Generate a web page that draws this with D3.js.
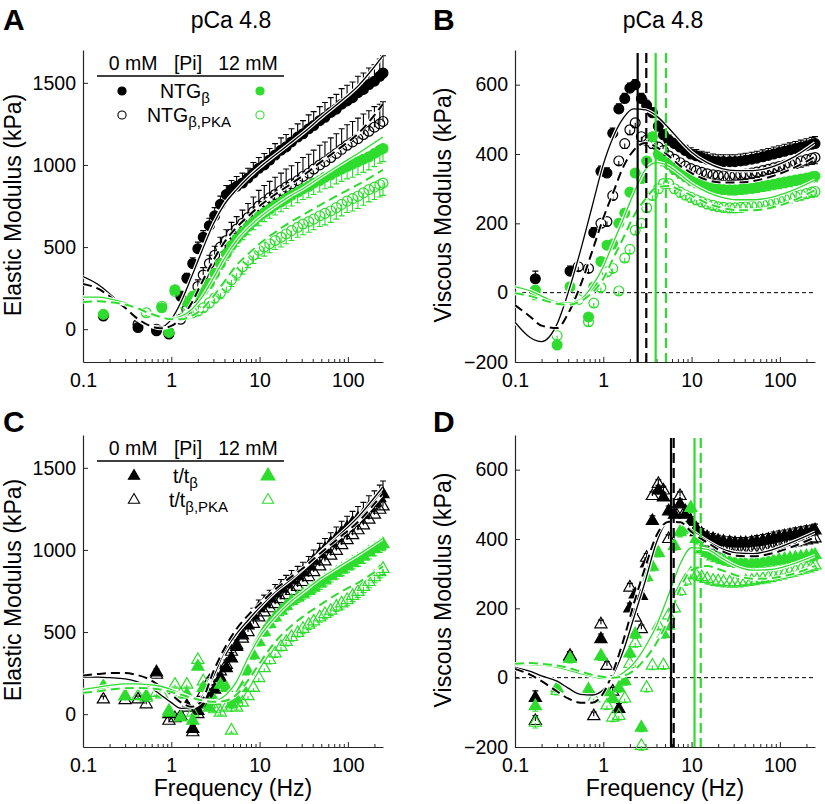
<!DOCTYPE html>
<html>
<head>
<meta charset="utf-8">
<script src="https://cdn.jsdelivr.net/npm/d3@7"></script>
<style>
  body { margin: 0; background: #fff; }
  svg { font-family: "Liberation Sans", Arial, sans-serif; }
</style>
</head>
<body>
<svg id="fig" width="825" height="804"></svg>
<script>
// frequencies (Hz) of the measured points and of the fitted curves
const freqs = [0.17, 0.3, 0.42, 0.52, 0.68, 0.78, 0.94, 1.1, 1.28, 1.5, 1.75, 2.0, 2.3, 2.7, 3.1, 3.6, 4.2, 4.8, 5.5, 6.4,
  7.4, 8.5, 9.8, 11.3, 13, 15, 17.5, 20, 23, 27, 31, 36, 41, 48, 55, 64, 74, 85, 98, 113, 130, 150, 173, 200, 230, 250];
const fitFreqs = [0.1, 0.15, 0.2, 0.3, 0.4, 0.55, 0.75, 1, 1.3, 1.7, 2.2, 3, 4, 5.5, 7.5, 10, 15, 22, 32, 50, 80, 130, 250];

// A: elastic modulus, NTG (kPa)
const aNtg0 = [80, null, 10, null, -10, null, -30, null, 200, 310, 400, 490, 560, 630, 690, 760, 820, 850, 870, 890, 920, 950, 980, 1000, 1030, 1060, 1090, 1110, 1140, 1170, 1190, 1220, 1240, 1270, 1290, 1320, 1340, 1370, 1390, 1410, 1440, 1460, 1490, 1510, 1540, 1560];
const aNtg0Err = [15, null, 15, null, 15, null, 20, null, 30, 30, 35, 40, 40, 45, 50, 50, 55, 55, 60, 60, 60, 65, 65, 70, 70, 70, 75, 75, 80, 80, 80, 85, 85, 85, 90, 90, 90, 95, 95, 95, 100, 100, 100, 100, 105, 105];
const aPka0 = [null, null, 30, null, 0, null, -20, null, 60, 120, 190, 260, 330, 400, 450, 500, 540, 580, 610, 645, 680, 715, 750, 775, 800, 820, 845, 865, 885, 905, 930, 950, 975, 1000, 1020, 1045, 1070, 1095, 1120, 1140, 1160, 1185, 1205, 1230, 1250, 1265];
const aPka0Err = [null, null, 15, null, 15, null, 15, null, 25, 30, 35, 40, 45, 50, 55, 60, 65, 70, 75, 80, 85, 90, 95, 100, 100, 105, 105, 110, 110, 110, 115, 115, 115, 120, 120, 120, 120, 125, 125, 125, 125, 125, 125, 125, 120, 120];
const aNtg12 = [90, null, null, null, null, 130, -20, 240, null, 165, 200, 215, 240, 280, 340, 400, 460, 510, 550, 590, 625, 655, 685, 710, 730, 755, 775, 795, 815, 835, 855, 870, 890, 905, 925, 940, 960, 975, 990, 1005, 1020, 1035, 1050, 1070, 1090, 1100];
const aNtg12Err = [20, null, null, null, null, 20, 20, 20, null, 20, 25, 25, 30, 30, 35, 35, 40, 40, 45, 45, 50, 50, 55, 55, 55, 60, 60, 60, 65, 65, 65, 70, 70, 70, 70, 75, 75, 75, 75, 80, 80, 80, 80, 80, 80, 80];
const aPka12 = [null, null, null, 100, null, 140, null, 230, 100, 90, 100, 110, 130, 160, 190, 220, 260, 300, 340, 380, 420, 450, 480, 500, 520, 540, 560, 580, 600, 620, 640, 655, 670, 690, 705, 720, 740, 760, 780, 795, 810, 830, 850, 865, 880, 890];
const aPka12Err = [null, null, null, 20, null, 20, null, 20, 20, 20, 20, 25, 25, 30, 30, 35, 35, 40, 40, 45, 45, 50, 50, 55, 55, 55, 60, 60, 60, 60, 65, 65, 65, 65, 70, 70, 70, 70, 70, 75, 75, 75, 75, 75, 75, 75];
const aFitNtg0 = [320, 270, 215, 125, 65, 22, 12, 60, 170, 320, 470, 640, 760, 850, 925, 985, 1060, 1130, 1200, 1290, 1380, 1480, 1665];
const aFitPka0 = [275, 245, 200, 130, 70, 25, 5, 20, 70, 160, 280, 420, 530, 620, 690, 750, 820, 880, 940, 1020, 1100, 1190, 1370];
const aFitNtg12 = [195, 195, 185, 160, 130, 95, 70, 65, 80, 120, 190, 310, 430, 540, 620, 680, 750, 810, 860, 930, 1000, 1070, 1170];
const aFitPka12 = [165, 170, 165, 150, 130, 100, 75, 60, 60, 80, 120, 200, 290, 390, 460, 520, 590, 650, 700, 760, 820, 880, 970];

// B: viscous modulus, NTG (kPa)
const bNtg0 = [40, null, 62, null, null, 173, 350, 345, 460, 530, 560, 590, 600, 560, 540, 519, 480, 455, 440, 430, 420, 410, 400, 395, 390, 385, 380, 378, 378, 378, 378, 380, 382, 385, 388, 392, 396, 400, 404, 408, 412, 416, 420, 424, 428, 430];
const bNtg0Err = [22, null, 15, null, null, 15, 15, 15, 15, 15, 15, 15, 15, 15, 15, 15, 15, 15, 15, 15, 15, 15, 18, 18, 18, 20, 20, 20, 20, 20, 20, 20, 20, 20, 20, 20, 20, 20, 20, 20, 20, 20, 20, 20, 20, 20];
const bPka0 = [null, null, null, 75, 70, null, 200, 205, 280, 380, 430, 470, 490, 450, 440, 430, 420, 410, 395, 385, 375, 365, 358, 352, 347, 343, 340, 338, 337, 337, 338, 340, 342, 345, 348, 352, 356, 360, 364, 368, 372, 376, 380, 384, 388, 390];
const bPka0Err = [null, null, null, 12, 12, null, 12, 12, 12, 12, 14, 14, 14, 14, 14, 14, 14, 14, 15, 15, 15, 15, 15, 15, 15, 15, 15, 16, 16, 16, 16, 16, 16, 16, 16, 16, 16, 16, 18, 18, 18, 18, 18, 18, 18, 18];
const bNtg12 = [8, -151, 17, null, -70, 17, 90, 137, 140, 200, 230, 290, 345, 330, 380, 450, 400, 380, 370, 355, 345, 335, 325, 318, 312, 307, 303, 300, 298, 297, 297, 298, 300, 302, 304, 307, 310, 313, 316, 319, 322, 325, 328, 331, 334, 336];
const bNtg12Err = [15, 12, 12, null, 12, 12, 12, 12, 12, 12, 12, 12, 12, 14, 14, 14, 14, 14, 14, 14, 15, 15, 15, 15, 15, 15, 15, 15, 15, 15, 15, 15, 15, 15, 15, 15, 16, 16, 16, 16, 16, 16, 16, 16, 16, 16];
const bPka12 = [-5, -124, null, -20, -84, -30, 15, 60, 70, 5, 100, 125, 180, 200, 245, 280, 300, 315, 315, 300, 290, 282, 275, 268, 262, 256, 252, 248, 246, 245, 245, 246, 248, 250, 252, 255, 258, 262, 266, 270, 274, 278, 282, 286, 290, 292];
const bPka12Err = [15, 12, null, 12, 12, 12, 12, 12, 12, 12, 12, 12, 12, 12, 12, 12, 14, 14, 14, 14, 14, 14, 14, 14, 14, 14, 14, 14, 14, 14, 14, 14, 14, 14, 14, 14, 15, 15, 15, 15, 15, 15, 15, 15, 15, 15];
const bFitNtg0 = [-85, -130, -141, -90, 0, 120, 250, 370, 450, 505, 530, 527, 510, 475, 437, 405, 375, 358, 352, 352, 362, 385, 432];
const bFitPka0 = [-36, -70, -95, -102, -60, 20, 120, 215, 290, 365, 410, 432, 420, 395, 365, 345, 325, 318, 318, 322, 335, 355, 392];
const bFitNtg12 = [17, 5, -10, -28, -30, -20, 20, 75, 145, 215, 285, 355, 375, 365, 340, 315, 290, 275, 268, 268, 275, 292, 325];
const bFitPka12 = [-2, -10, -20, -32, -35, -25, 0, 40, 100, 160, 220, 270, 303, 308, 295, 280, 258, 245, 238, 238, 245, 262, 296];
const bFmin = [2.45, 3.07, 3.92, 5.13];

// C: elastic modulus, t/t (kPa)
const cTt0 = [null, null, null, null, 255, null, 0, null, null, 50, -90, 20, 60, 120, 150, 220, 280, 340, 410, 480, 540, 600, 645, 675, 705, 735, 765, 790, 815, 840, 865, 900, 935, 975, 1005, 1040, 1070, 1105, 1135, 1165, 1190, 1215, 1255, 1285, 1315, 1340];
const cTt0Err = [null, null, null, null, 20, null, 20, null, null, 20, 20, 20, 25, 25, 30, 30, 35, 35, 40, 40, 45, 45, 50, 50, 50, 55, 55, 55, 60, 60, 60, 60, 65, 65, 65, 65, 70, 70, 70, 70, 75, 75, 75, 75, 80, 80];
const cPka0 = [90, 85, 90, 60, 240, null, -40, -25, -10, 40, -110, 0, 130, 200, 230, 260, 300, 380, 420, 460, 500, 550, 590, 620, 645, 670, 700, 725, 750, 775, 805, 835, 865, 900, 930, 965, 995, 1030, 1060, 1090, 1120, 1150, 1185, 1215, 1245, 1265];
const cPka0Err = [20, 20, 20, 20, 20, null, 20, 20, 20, 20, 20, 20, 25, 25, 25, 30, 30, 30, 35, 35, 35, 40, 40, 40, 45, 45, 45, 50, 50, 50, 55, 55, 55, 60, 60, 60, 60, 65, 65, 65, 65, 70, 70, 70, 70, 70];
const cTt12 = [170, 110, null, 110, null, null, 10, null, -20, 120, -40, 290, 160, 40, 80, 180, 160, 60, 90, 160, 260, 360, 440, 500, 550, 590, 630, 660, 690, 710, 730, 750, 770, 795, 815, 840, 860, 880, 900, 920, 940, 960, 985, 1005, 1025, 1035];
const cTt12Err = [15, 15, null, 15, null, null, 15, null, 15, 15, 15, 15, 15, 15, 15, 20, 20, 20, 20, 20, 20, 25, 25, 25, 25, 25, 30, 30, 30, 30, 30, 30, 30, 35, 35, 35, 35, 35, 35, 35, 40, 40, 40, 40, 40, 40];
const cPka12 = [null, 110, 110, 100, 130, 120, 20, 180, 120, 180, 10, 330, 200, 60, 30, 10, 40, -100, 40, 70, 110, 160, 220, 280, 330, 370, 410, 440, 470, 495, 520, 545, 565, 590, 610, 630, 655, 675, 695, 720, 745, 775, 805, 835, 865, 885];
const cPka12Err = [null, 15, 15, 15, 15, 15, 15, 15, 15, 15, 15, 15, 15, 15, 15, 15, 15, 15, 15, 20, 20, 20, 20, 20, 25, 25, 25, 25, 25, 25, 30, 30, 30, 30, 30, 30, 30, 35, 35, 35, 35, 35, 35, 35, 35, 35];
const cFitTt0 = [225, 225, 222, 215, 200, 170, 120, 70, 35, 40, 100, 230, 380, 490, 575, 650, 745, 815, 890, 990, 1090, 1200, 1385];
const cFitPka0 = [235, 245, 250, 250, 240, 215, 170, 120, 70, 45, 80, 260, 400, 520, 605, 670, 760, 830, 895, 985, 1075, 1170, 1345];
const cFitTt12 = [150, 165, 175, 185, 185, 180, 170, 150, 125, 100, 85, 80, 110, 200, 350, 470, 590, 680, 750, 830, 900, 970, 1070];
const cFitPka12 = [130, 140, 150, 158, 160, 158, 150, 135, 118, 100, 85, 75, 80, 120, 210, 310, 440, 530, 600, 670, 740, 800, 900];

// D: viscous modulus, t/t (kPa)
const dTt0 = [-58, null, 60, null, null, null, 111, null, null, -90, null, 200, 240, 236, 330, 452, 540, 520, 480, 470, 500, 470, 450, 430, 415, 405, 400, 395, 392, 390, 388, 388, 388, 390, 392, 395, 398, 402, 405, 408, 411, 414, 417, 420, 422, 425];
const dTt0Err = [20, null, 15, null, null, null, 15, null, null, 15, null, 15, 15, 15, 15, 15, 15, 15, 15, 15, 15, 15, 15, 15, 15, 15, 16, 16, 16, 16, 16, 16, 16, 16, 18, 18, 18, 18, 18, 18, 18, 18, 18, 18, 18, 18];
const dPka0 = [-125, null, 63, null, null, -111, 154, 34, -40, null, null, 260, 173, 140, 346, 524, 559, 540, 400, 480, 524, 480, 450, 420, 400, 390, 380, 375, 370, 368, 366, 366, 366, 368, 370, 372, 375, 378, 381, 384, 387, 390, 393, 396, 399, 402];
const dPka0Err = [15, null, 12, null, null, 12, 12, 12, 12, null, null, 12, 12, 12, 12, 12, 12, 12, 12, 12, 12, 14, 14, 14, 14, 14, 14, 14, 14, 14, 14, 14, 14, 14, 15, 15, 15, 15, 15, 15, 15, 15, 15, 15, 15, 15];
const dTt12 = [-82, -30, 55, null, -40, null, 62, -40, -60, -30, -10, 70, 125, -144, 290, 320, 360, 126, 150, 380, 420, 430, 490, 400, 370, 360, 350, 345, 340, 335, 332, 330, 330, 330, 331, 333, 335, 337, 340, 342, 344, 346, 348, 350, 352, 354];
const dTt12Err = [15, 12, 12, null, 12, null, 12, 12, 12, 12, 12, 12, 12, 12, 12, 12, 12, 12, 12, 12, 14, 14, 14, 14, 14, 14, 14, 14, 14, 14, 14, 14, 14, 14, 14, 14, 15, 15, 15, 15, 15, 15, 15, 15, 15, 15];
const dPka12 = [-130, -38, 55, null, -34, -60, 62, -80, -115, -110, -60, 40, 100, -197, -29, 35, 150, 36, 180, 200, 250, 280, 300, 295, 290, 285, 280, 278, 276, 275, 275, 276, 278, 280, 282, 285, 288, 292, 296, 300, 304, 308, 312, 316, 320, 324];
const dPka12Err = [15, 12, 12, null, 12, 12, 12, 12, 12, 12, 12, 12, 12, 12, 12, 12, 12, 12, 12, 12, 12, 14, 14, 14, 14, 14, 14, 14, 14, 14, 14, 14, 14, 14, 14, 14, 15, 15, 15, 15, 15, 15, 15, 15, 15, 15];
const dFitTt0 = [30, 18, 5, -10, -30, -48, -50, -35, 10, 80, 170, 280, 390, 450, 450, 425, 395, 372, 360, 358, 368, 388, 420];
const dFitPka0 = [25, 8, -10, -40, -60, -72, -72, -45, 20, 110, 210, 320, 410, 450, 448, 420, 390, 365, 352, 350, 358, 375, 405];
const dFitTt12 = [38, 38, 36, 30, 22, 12, 3, -3, 0, 15, 40, 90, 150, 240, 330, 375, 370, 345, 322, 310, 312, 325, 352];
const dFitPka12 = [40, 42, 40, 35, 28, 18, 8, 2, 0, 5, 20, 55, 100, 170, 260, 310, 322, 310, 295, 285, 287, 297, 322];
const dFmin = [5.85, 6.27, 10.8, 12.7];

// ticks and labels
const xMajorTicks = [0.1, 1, 10, 100];
const xMinorTicks = [0.2, 0.3, 0.4, 0.5, 0.6, 0.7, 0.8, 0.9, 2, 3, 4, 5, 6, 7, 8, 9, 20, 30, 40, 50, 60, 70, 80, 90, 200];
const elasticTicks = [0, 500, 1000, 1500];
const viscousTicks = [-200, 0, 200, 400, 600];
const piHeader = ["0 mM", "[Pi]", "12 mM"];
const ntgNames = [["NTG", "β"], ["NTG", "β,PKA"]];
const ttNames = [["t/t", "β"], ["t/t", "β,PKA"]];

const BLACK = "#000";
const GREEN = "#2edc2e";
const AXIS = "#262626";

let svg = d3.select("#fig");

function series(vals, errs, color, filled, up) {
    return {vals: vals, errs: errs, color: color, filled: filled, up: up};
}

const panels = [
    {letter: "A", left: 83, top: 50, bottom: 362, yDomain: [-200, 1700], yTicks: elasticTicks,
     yTitle: "Elastic Modulus (kPa)", title: "pCa 4.8", shape: "circle", zero: false, vlines: null, xTitle: false,
     series: [series(aNtg0, aNtg0Err, BLACK, true, true), series(aPka0, aPka0Err, BLACK, false, true),
              series(aNtg12, aNtg12Err, GREEN, true, false), series(aPka12, aPka12Err, GREEN, false, false)],
     fits: [aFitNtg0, aFitPka0, aFitNtg12, aFitPka12]},
    {letter: "B", left: 515, top: 50, bottom: 362, yDomain: [-200, 700], yTicks: viscousTicks,
     yTitle: "Viscous Modulus (kPa)", title: "pCa 4.8", shape: "circle", zero: true, vlines: bFmin, xTitle: false,
     series: [series(bNtg0, bNtg0Err, BLACK, true, true), series(bPka0, bPka0Err, BLACK, false, false),
              series(bNtg12, bNtg12Err, GREEN, true, false), series(bPka12, bPka12Err, GREEN, false, false)],
     fits: [bFitNtg0, bFitPka0, bFitNtg12, bFitPka12]},
    {letter: "C", left: 83, top: 435, bottom: 747, yDomain: [-200, 1700], yTicks: elasticTicks,
     yTitle: "Elastic Modulus (kPa)", title: null, shape: "tri", zero: false, vlines: null, xTitle: true,
     series: [series(cTt0, cTt0Err, BLACK, true, true), series(cPka0, cPka0Err, BLACK, false, true),
              series(cTt12, cTt12Err, GREEN, true, false), series(cPka12, cPka12Err, GREEN, false, false)],
     fits: [cFitTt0, cFitPka0, cFitTt12, cFitPka12]},
    {letter: "D", left: 515, top: 435, bottom: 747, yDomain: [-200, 700], yTicks: viscousTicks,
     yTitle: "Viscous Modulus (kPa)", title: null, shape: "tri", zero: true, vlines: dFmin, xTitle: true,
     series: [series(dTt0, dTt0Err, BLACK, true, true), series(dPka0, dPka0Err, BLACK, false, true),
              series(dTt12, dTt12Err, GREEN, true, false), series(dPka12, dPka12Err, GREEN, false, false)],
     fits: [dFitTt0, dFitPka0, dFitTt12, dFitPka12]}
];

function styleAxis(g) {
    g.attr("font-size", 19.5).attr("font-family", null);
    g.select(".domain").attr("stroke", AXIS).attr("stroke-width", 1.2);
    g.selectAll(".tick line").attr("stroke", AXIS);
    g.selectAll(".tick text").attr("fill", "#000");
}

function drawPanel(p, idx) {
    let x = d3.scaleLog().domain([0.1, 250]).range([p.left, p.left + 300]);
    let y = d3.scaleLinear().domain(p.yDomain).range([p.bottom, p.top]);
    let g = svg.append("g");

    g.append("clipPath").attr("id", "clip" + idx)
        .append("rect").attr("x", p.left).attr("y", p.top)
        .attr("width", 300).attr("height", p.bottom - p.top);

    // axes
    let xg = g.append("g").attr("transform", "translate(0," + p.bottom + ")")
        .call(d3.axisBottom(x).tickValues(xMajorTicks).tickFormat(d3.format("~g"))
            .tickSizeInner(-5).tickSizeOuter(0).tickPadding(11));
    styleAxis(xg);
    let xm = g.append("g").attr("transform", "translate(0," + p.bottom + ")")
        .call(d3.axisBottom(x).tickValues(xMinorTicks).tickFormat("")
            .tickSizeInner(-3).tickSizeOuter(0));
    xm.select(".domain").remove();
    xm.selectAll(".tick line").attr("stroke", AXIS);

    let yg = g.append("g").attr("transform", "translate(" + p.left + ",0)")
        .call(d3.axisLeft(y).tickValues(p.yTicks).tickFormat(d3.format("d"))
            .tickSizeInner(-5).tickSizeOuter(0).tickPadding(7));
    styleAxis(yg);

    if (p.zero) {
        g.append("line")
            .attr("x1", p.left).attr("x2", p.left + 300)
            .attr("y1", y(0)).attr("y2", y(0))
            .attr("stroke", BLACK).attr("stroke-width", 1)
            .attr("stroke-dasharray", "4,3");
    }

    // data points with one-sided error bars
    let sym = d3.symbol()
        .type(p.shape === "tri" ? d3.symbolTriangle : d3.symbolCircle)
        .size(p.shape === "tri" ? 64 : 76);

    p.series.forEach(s => {
        let pts = freqs.map((f, i) => ({f: f, v: s.vals[i], e: s.errs[i]}))
            .filter(d => d.v !== null);
        let sg = g.append("g");

        sg.selectAll("path.err")
            .data(pts.filter(d => d.e))
            .enter().append("path")
            .attr("d", d => {
                let px = x(d.f), y0 = y(d.v), y1 = y(d.v + (s.up ? d.e : -d.e));
                return "M" + px + "," + y0 + "V" + y1 + "M" + (px - 3) + "," + y1 + "H" + (px + 3);
            })
            .attr("fill", "none")
            .attr("stroke", s.color)
            .attr("stroke-width", 1.1);

        sg.selectAll("path.pt")
            .data(pts)
            .enter().append("path")
            .attr("transform", d => "translate(" + x(d.f) + "," + y(d.v) + ")")
            .attr("d", sym)
            .attr("fill", s.filled ? s.color : "none")
            .attr("stroke", s.color)
            .attr("stroke-width", 1.2);
    });

    // model fits: 0 mM black, 12 mM green; PKA dashed
    let line = d3.line()
        .x((d, i) => x(fitFreqs[i]))
        .y(d => y(d))
        .curve(d3.curveMonotoneX);

    p.fits.forEach((vals, i) => {
        let color = i < 2 ? BLACK : GREEN;
        let dashed = i % 2 === 1;
        g.append("path")
            .attr("d", line(vals))
            .attr("clip-path", "url(#clip" + idx + ")")
            .attr("fill", "none")
            .attr("stroke", "#fff")
            .attr("stroke-width", 3.6);
        g.append("path")
            .attr("d", line(vals))
            .attr("clip-path", "url(#clip" + idx + ")")
            .attr("fill", "none")
            .attr("stroke", color)
            .attr("stroke-width", dashed ? 2 : 1.3)
            .attr("stroke-dasharray", dashed ? "9,5" : null);
    });

    if (p.vlines) {
        p.vlines.forEach((f, i) => {
            g.append("line")
                .attr("x1", x(f)).attr("x2", x(f))
                .attr("y1", p.top + 3).attr("y2", p.bottom)
                .attr("stroke", i < 2 ? BLACK : GREEN)
                .attr("stroke-width", 2.2)
                .attr("stroke-dasharray", i % 2 === 1 ? "10,5" : null);
        });
    }

    // texts
    let titleX = p.left < 300 ? 21 : 451;
    let midY = (p.top + p.bottom) / 2 - 1;
    g.append("text")
        .attr("transform", "translate(" + titleX + "," + midY + ") rotate(-90)")
        .attr("text-anchor", "middle")
        .attr("font-size", 23)
        .text(p.yTitle);

    g.append("text")
        .attr("x", p.left < 300 ? 3 : 433)
        .attr("y", p.top < 100 ? 30 : 432)
        .attr("font-size", 30)
        .attr("font-weight", "bold")
        .text(p.letter);

    if (p.title) {
        g.append("text")
            .attr("x", p.left + 150 - 2)
            .attr("y", 28)
            .attr("text-anchor", "middle")
            .attr("font-size", 23)
            .text(p.title);
    }
    if (p.xTitle) {
        g.append("text")
            .attr("x", p.left + 150)
            .attr("y", 796)
            .attr("text-anchor", "middle")
            .attr("font-size", 23)
            .text("Frequency (Hz)");
    }
}

function drawLegend(top, names, shape, markX, textX) {
    let g = svg.append("g");
    let centers = [133, 188, 248];
    piHeader.forEach((t, i) => {
        g.append("text")
            .attr("x", centers[i]).attr("y", top)
            .attr("text-anchor", "middle")
            .attr("font-size", 19.5)
            .text(t);
    });
    g.append("line")
        .attr("x1", 97).attr("x2", 284)
        .attr("y1", top + 6).attr("y2", top + 6)
        .attr("stroke", BLACK).attr("stroke-width", 1.6);

    let rowY = [top + 21, top + 45];
    names.forEach((n, r) => {
        [BLACK, GREEN].forEach((c, k) => {
            let s = d3.symbol()
                .type(shape === "tri" ? d3.symbolTriangle : d3.symbolCircle)
                .size(shape === "tri" ? (k === 1 && r === 0 ? 85 : 55) : 52);
            g.append("path")
                .attr("transform", "translate(" + markX[k] + "," + rowY[r] + ")")
                .attr("d", s)
                .attr("fill", r === 0 ? c : "#fff")
                .attr("stroke", c)
                .attr("stroke-width", 1.1);
        });
        let t = g.append("text")
            .attr("x", textX[r]).attr("y", rowY[r] + 7)
            .attr("font-size", 19.5);
        t.append("tspan").text(n[0]);
        t.append("tspan").attr("dy", 5).attr("font-size", 15).text(n[1]);
    });
}

panels.forEach(drawPanel);
drawLegend(70, ntgNames, "circle", [122, 260], [160, 147]);
drawLegend(455, ttNames, "tri", [134, 268], [173, 169]);
</script>
</body>
</html>
